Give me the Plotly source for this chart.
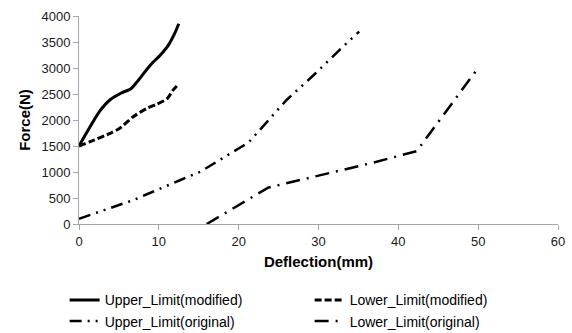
import plotly.graph_objects as go

up_mod_x = [0, 0.75, 2.6, 3.9, 5.3, 6.5, 7.2, 8.9, 10.2, 11.2, 12.0, 12.5]
up_mod_y = [1500, 1700, 2170, 2390, 2520, 2600, 2720, 3050, 3250, 3440, 3670, 3850]

lo_mod_x = [0, 1.4, 3.9, 5.1, 6.8, 8.5, 9.7, 11.0, 11.8, 12.5]
lo_mod_y = [1500, 1583, 1744, 1840, 2064, 2224, 2301, 2404, 2577, 2692]

up_org_x = [0, 6.8, 13.0, 15.2, 20.4, 21.2, 26.0, 29.4, 33.5, 35.1]
up_org_y = [100, 460, 865, 1006, 1490, 1560, 2385, 2865, 3474, 3700]

lo_org_x = [16.0, 23.7, 30.0, 36.5, 42.3, 45.2, 50.0]
lo_org_y = [0, 700, 930, 1167, 1400, 2010, 3000]

fig = go.Figure()
fig.add_trace(go.Scatter(x=up_mod_x, y=up_mod_y, mode="lines", name="Upper_Limit(modified)",
                         line=dict(color="black", width=3, shape="spline", smoothing=0.8)))
fig.add_trace(go.Scatter(x=lo_mod_x, y=lo_mod_y, mode="lines", name="Lower_Limit(modified)",
                         line=dict(color="black", width=3, dash="7px,3px", shape="spline", smoothing=0.6)))
fig.add_trace(go.Scatter(x=up_org_x, y=up_org_y, mode="lines", name="Upper_Limit(original)",
                         line=dict(color="black", width=2.5, dash="12px,6px,2px,6px,2px,6px")))
fig.add_trace(go.Scatter(x=lo_org_x, y=lo_org_y, mode="lines", name="Lower_Limit(original)",
                         line=dict(color="black", width=2.5, dash="14px,7px,2px,7px")))

axis_common = dict(showgrid=False, zeroline=False, showline=True, linecolor="#a6a6a6", linewidth=1,
                   ticks="outside", ticklen=5, tickcolor="#a6a6a6",
                   tickfont=dict(family="Liberation Sans, Arial", size=13, color="#1a1a1a"))

fig.update_xaxes(range=[0, 60], dtick=10, title=dict(text="<b>Deflection(mm)</b>", standoff=8,
                 font=dict(family="Liberation Sans, Arial", size=15, color="black")), **axis_common)
fig.update_yaxes(range=[0, 4000], dtick=500, title=dict(text="<b>Force(N)</b>", standoff=7,
                 font=dict(family="Liberation Sans, Arial", size=15, color="black")), **axis_common)

fig.update_layout(
    width=572, height=333,
    margin=dict(l=79, r=14, t=16, b=109, autoexpand=False),
    plot_bgcolor="white", paper_bgcolor="white",
    legend=dict(orientation="h", x=-0.03, xanchor="left", y=-0.29, yanchor="top",
                entrywidth=200, entrywidthmode="pixels", tracegroupgap=0,
                font=dict(family="Liberation Sans, Arial", size=14, color="black"),
                itemwidth=30),
    showlegend=True,
)

fig.write_html("out.html")
